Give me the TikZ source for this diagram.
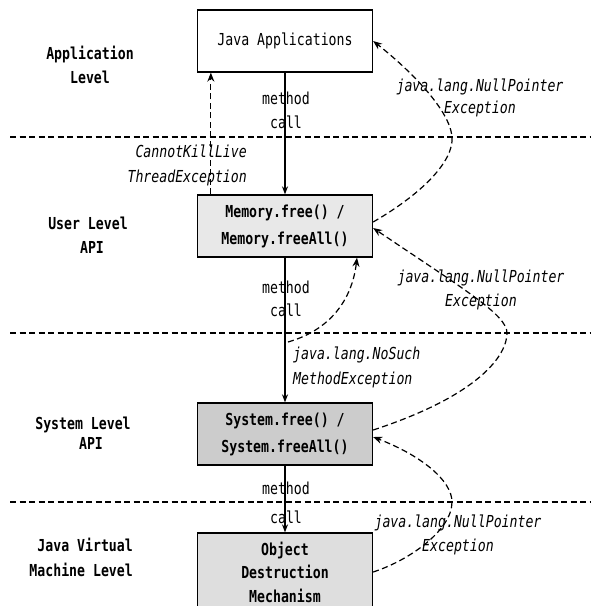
\documentclass[tikz,border=0pt]{standalone}
\usepackage{fontspec}
\newfontfamily\gfont{DejaVu Sans Mono}[FakeStretch=0.8, ItalicFont={DejaVu Sans Mono Oblique}, BoldFont={DejaVu Sans Mono Bold}]
\usetikzlibrary{arrows.meta}
\definecolor{memfill}{gray}{0.91}
\definecolor{sysfill}{gray}{0.80}
\definecolor{objfill}{gray}{0.87}
\begin{document}
\begin{tikzpicture}[x=1pt,y=-1pt,
  box/.style={draw, line width=1.3pt, minimum width=175pt, minimum height=62pt, inner sep=0pt, align=center},
  rfont/.style={font=\gfont\fontsize{16.5}{#1}\selectfont},
  bfont/.style={font=\gfont\bfseries\fontsize{16.5}{#1}\selectfont},
  ifont/.style={font=\gfont\itshape\fontsize{16.5}{#1}\selectfont},
  lbl/.style={inner sep=0pt, align=center},
  call/.style={line width=1.2pt, -{Stealth[length=8pt,width=6pt]}},
  exc/.style={line width=1.2pt, dash pattern=on 6pt off 3.5pt, -{Stealth[length=9pt,width=7pt]}},
  level/.style={line width=1.1pt, dash pattern=on 6pt off 3.5pt}]
\useasboundingbox (0,0) rectangle (591,606);
\fill[white] (0,0) rectangle (591,606);

% level separators
\coordinate (s1a) at (10,137); \coordinate (s1b) at (591,137);
\coordinate (s2a) at (10,333); \coordinate (s2b) at (591,333);
\coordinate (s3a) at (10,502); \coordinate (s3b) at (591,502);
\draw[level] (s1a) -- (s1b);
\draw[level] (s2a) -- (s2b);
\draw[level] (s3a) -- (s3b);

% boxes
\node[box, rfont=24] (app) at (285,41) {Java Applications};
\node[box, fill=memfill, bfont=27] (mem) at (285,226) {Memory.free() /\\Memory.freeAll()};
\node[box, fill=sysfill, bfont=27] (sys) at (285,434) {System.free() /\\System.freeAll()};
\node[box, fill=objfill, minimum height=78pt, bfont=23.5] (obj) at (285,572) {Object\\Destruction\\Mechanism};

% level labels
\node[lbl, bfont=24] (lv1) at (90,65) {Application\\Level};
\node[lbl, bfont=24] (lv2) at (88,235) {User Level\\API\hspace*{-8pt}};
\node[lbl, bfont=20] (lv3) at (83,433) {System Level\\API\hspace*{-16pt}};
\node[lbl, bfont=25, align=right, anchor=east] (lv4) at (133,557.5) {Java Virtual\\Machine Level};

% method call labels
\node[lbl, rfont=24] (mc1) at (286,110) {method\\call};
\node[lbl, rfont=23] (mc2) at (286,298.5) {method\\call};
\node[lbl, rfont=29] (mc3) at (286,502.5) {method\\call};

% method calls
\draw[call] (app.south) -- (mem.north);
\draw[call] (mem.south) -- (sys.north);
\draw[call] (sys.south) -- (obj.north);

% exception labels
\node[lbl, ifont=25, align=right, anchor=east] (ck) at (247,165.5) {CannotKillLive\\ThreadException};
\node[lbl, ifont=22] (np1) at (480,98) {java.lang.NullPointer\\Exception};
\node[lbl, ifont=24] (np2) at (481,290) {java.lang.NullPointer\\Exception};
\node[lbl, ifont=24] (np3) at (458,535) {java.lang.NullPointer\\Exception};
\node[lbl, ifont=25, align=left, anchor=west] (nsm) at (293,367.5) {java.lang.NoSuch\\MethodException};

% exceptions
\draw[exc] ([xshift=14pt]mem.north west) -- ([xshift=14pt]app.south west);
\draw[exc] ([yshift=4pt]mem.east) .. controls (420,195) and (454,162) .. (452,137)
  .. controls (450,110) and (410,70) .. (app.east);
\draw[exc] ([yshift=4pt]sys.east) .. controls (480,395) and (507,355) .. (507,333)
  .. controls (507,315) and (465,290) .. ([yshift=-2pt]mem.east);
\draw[exc] (obj.east) .. controls (410,560) and (452,530) .. (452,502)
  .. controls (452,480) and (420,455) .. ([yshift=-3pt]sys.east);
\coordinate (nsstart) at (288,342);
\draw[exc] (nsstart) .. controls (330,330) and (352,300) .. ([xshift=72pt]mem.south);
\end{tikzpicture}
\end{document}
